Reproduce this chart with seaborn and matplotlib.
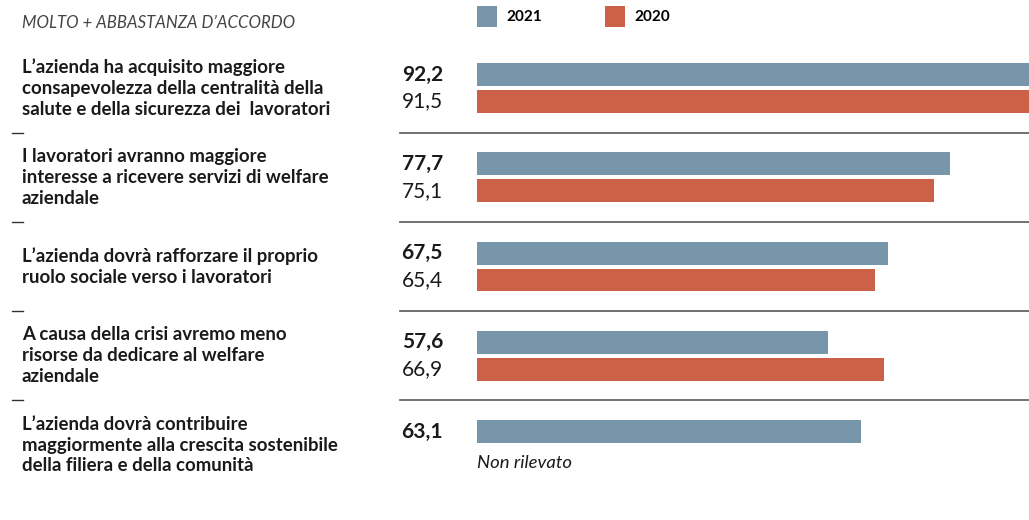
import numpy as np
import pandas as pd
import matplotlib
matplotlib.use("Agg")
import matplotlib.pyplot as plt
import matplotlib.transforms as mtransforms
from matplotlib.lines import Line2D
import seaborn as sns

# Survey statements (top to bottom) and shares of "molto + abbastanza d'accordo"
statements = [
    "L\u2019azienda ha acquisito maggiore\nconsapevolezza della centralità della\nsalute e della sicurezza dei  lavoratori",
    "I lavoratori avranno maggiore\ninteresse a ricevere servizi di welfare\naziendale",
    "L\u2019azienda dovrà rafforzare il proprio\nruolo sociale verso i lavoratori",
    "A causa della crisi avremo meno\nrisorse da dedicare al welfare\naziendale",
    "L\u2019azienda dovrà contribuire\nmaggiormente alla crescita sostenibile\ndella filiera e della comunità",
]
years = ["2021", "2020"]
values_2021 = [92.2, 77.7, 67.5, 57.6, 63.1]
values_2020 = [91.5, 75.1, 65.4, 66.9, np.nan]
colors = ["#7896A9", "#CD6148"]

df = pd.DataFrame({
    "statement": statements * 2,
    "year": [years[0]] * len(statements) + [years[1]] * len(statements),
    "value": values_2021 + values_2020,
})

W, H = 1029, 520
fig = plt.figure(figsize=(W / 100, H / 100), dpi=100)
fig.patch.set_facecolor("white")
ax = fig.add_axes([477 / W, 0, 1 - 477 / W, 1])

sns.barplot(data=df, y="statement", x="value", hue="year", hue_order=years,
            palette=colors, orient="h", width=0.6, gap=0.15, dodge=True,
            saturation=1, ax=ax, legend=True)

ax.set_xlim(0, (W - 477) / 6.09)
ax.set_ylim(4.84, -0.986)
ax.axis("off")


def px(x, y):
    return x / W, 1 - y / H


text_font = ["Lato", "DejaVu Sans"]
dark = "#1a1a1a"

# Header
fig.text(*px(22, 23), "MOLTO + ABBASTANZA D\u2019ACCORDO", ha="left", va="center",
         fontsize=12.1, style="italic", color="#444444", family=text_font)

# Statement labels, centred on each group
label_tr = mtransforms.blended_transform_factory(fig.transFigure, ax.transData)
for i, s in enumerate(statements):
    fig.text(22 / W, i, s, transform=label_tr, ha="left", va="center",
             fontsize=13.4, fontweight="bold", color=dark, family=text_font,
             linespacing=1.27)

# Value labels next to the bars
for i in range(len(statements)):
    v1, v0 = values_2021[i], values_2020[i]
    fig.text(443 / W, i - 0.15, f"{v1:.1f}".replace(".", ","), transform=label_tr,
             ha="right", va="center", fontsize=15, fontweight="bold",
             color=dark, family=text_font)
    if not np.isnan(v0):
        fig.text(443 / W, i + 0.15, f"{v0:.1f}".replace(".", ","), transform=label_tr,
                 ha="right", va="center", fontsize=15, color=dark,
                 family=text_font)
    else:
        ax.text(0, i + 0.2, "Non rilevato", ha="left", va="center",
                fontsize=13.3, style="italic", color=dark, family=text_font)

# Group separators
for k in range(len(statements) - 1):
    yk = k + 0.5
    fig.add_artist(Line2D([400 / W, 1.0], [yk, yk], transform=label_tr,
                          color="#666666", lw=1.3, clip_on=False))
    fig.add_artist(Line2D([12 / W, 23 / W], [yk, yk], transform=label_tr,
                          color="#333333", lw=1.0, clip_on=False))

# Legend
handles, labels = ax.get_legend_handles_labels()
ax.legend(handles, labels, ncol=2, loc="upper left",
          bbox_to_anchor=px(477, 6), bbox_transform=fig.transFigure,
          frameon=False, handlelength=1.3, handleheight=1.7,
          handletextpad=0.6, columnspacing=4.15, borderaxespad=0, borderpad=0,
          prop={"family": text_font, "weight": "bold", "size": 11})

fig.savefig("out.png", dpi=100, facecolor="white")
